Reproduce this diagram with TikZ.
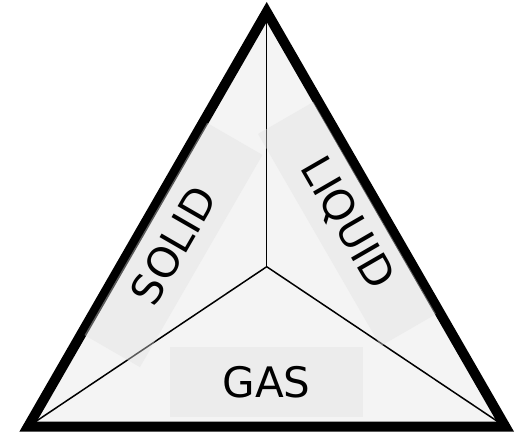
\documentclass[tikz,border=0pt]{standalone}
\usepackage{fontspec}
\setmainfont{DejaVu Sans}
\usepackage{xcolor}
\usepackage{tikz}
\definecolor{panel}{HTML}{F4F4F4}

\begin{document}
\begin{tikzpicture}[
    x=1pt, y=-1pt,
    phase/.style={fill=black!12, fill opacity=0.4, text opacity=1, inner sep=0pt, minimum width=245pt, minimum height=64pt, font=\fontsize{42}{42}\selectfont},
    border/.style={line width=10pt, line join=miter},
    split/.style={line width=1.5pt}
]
    \useasboundingbox (0,0) rectangle (525,439);

    \coordinate (top) at (266.7,12);
    \coordinate (left) at (28,426.7);
    \coordinate (right) at (505.4,426.7);
    \coordinate (mid) at (266.7,266.7);

    \fill[panel] (top) -- (left) -- (right) -- cycle;
    \draw[split] (mid) -- (top);
    \draw[split] (mid) -- (left);
    \draw[split] (mid) -- (right);
    \draw[border] (top) -- (left) -- (right) -- cycle;

    \node[phase, rotate=60] (solid) at (173.5,245) {SOLID};
    \node[phase, rotate=-60] (liquid) at (347,224) {LIQUID};
    \node[phase, minimum width=193pt, minimum height=70pt] (gas) at (266.5,382) {GAS};
\end{tikzpicture}
\end{document}
